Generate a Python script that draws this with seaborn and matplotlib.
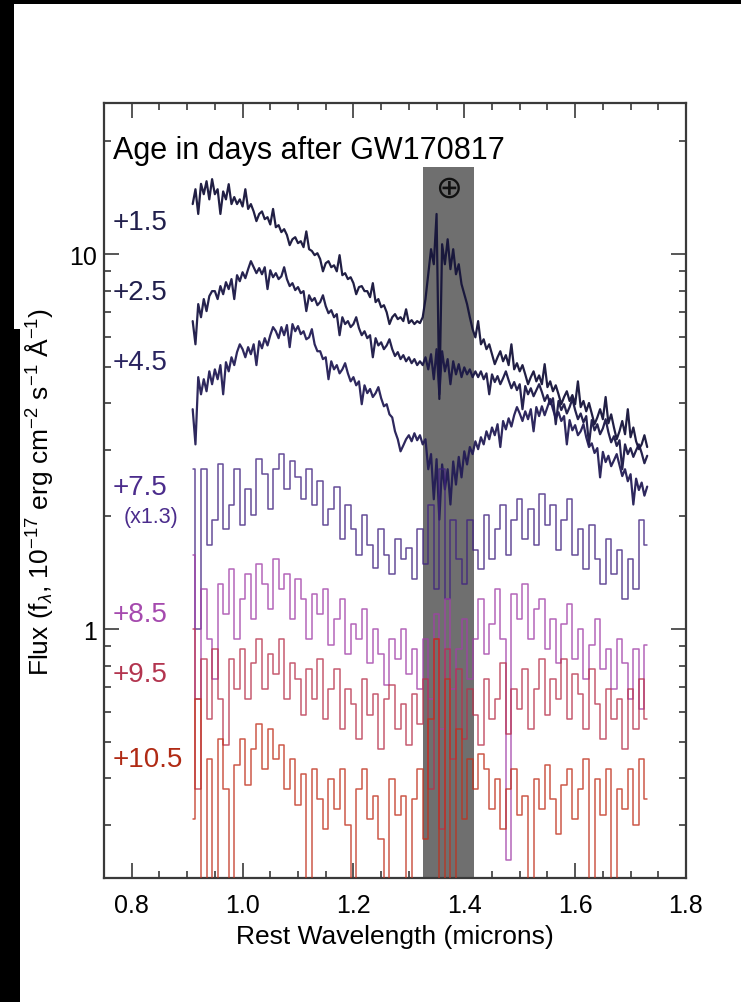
import numpy as np
import pandas as pd
import matplotlib
matplotlib.use("Agg")
import matplotlib.pyplot as plt
from matplotlib.patches import Rectangle
from matplotlib.ticker import (FixedLocator, MultipleLocator, FuncFormatter,
                               NullFormatter, LogLocator)
import seaborn as sns

# ---------------- data ----------------
wave_start, wave_end = 0.91, 1.73          # microns
n_fine, n_coarse = 165, 83                 # samples for early / late spectra

epoch_labels = ["+1.5", "+2.5", "+4.5", "+7.5", "+8.5", "+9.5", "+10.5"]
scale_note_7p5 = "(x1.3)"

flux_1p5 = [
    13.6, 14.9, 12.8, 15.4, 14.45, 15.65, 14.0, 15.85, 14.45, 14.9,
    12.8, 14.7, 14.0, 15.37, 13.6, 14.2, 13.6, 14.0, 13.4, 14.9,
    13.2, 13.6, 13.0, 12.25, 12.8, 13.0, 12.4, 12.55, 12.0, 13.2,
    11.8, 11.95, 11.45, 11.66, 11.25, 10.57, 10.96, 11.1, 10.7, 10.83,
    10.44, 11.5, 10.31, 10.2, 9.94, 10.06, 9.70, 9.0, 9.46, 9.58,
    9.23, 9.34, 9.0, 9.94, 8.79, 8.9, 8.58, 8.68, 8.37, 7.82,
    8.17, 8.22, 7.97, 7.97, 7.68, 8.37, 7.45, 7.59, 7.22, 7.31,
    7.0, 6.51, 6.79, 6.92, 6.71, 6.79, 6.63, 7.13, 6.55, 6.67,
    6.51, 6.63, 6.55, 6.79, 7.59, 8.84, 10.31, 9.40, 12.8, 4.11,
    10.63, 9.40, 10.96, 9.12, 10.31, 8.84, 9.40, 8.32, 7.82, 7.36,
    6.79, 6.31, 6.0, 6.63, 5.75, 5.93, 5.58, 5.75, 5.41, 5.09,
    5.31, 5.51, 5.18, 5.38, 5.06, 5.75, 4.93, 5.12, 4.87, 5.06,
    4.78, 4.50, 4.70, 4.87, 4.58, 4.75, 4.50, 5.09, 4.42, 4.58,
    4.31, 4.47, 4.23, 3.98, 4.16, 4.31, 4.06, 4.21, 3.98, 4.58,
    3.91, 4.06, 3.81, 4.01, 3.76, 3.52, 3.67, 3.86, 3.63, 4.16,
    3.54, 3.74, 3.45, 3.21, 3.37, 3.59, 3.31, 3.86, 3.25, 3.45,
    3.17, 3.02, 3.11, 3.29, 3.06]

flux_2p5 = [
    6.63, 5.75, 7.36, 6.79, 7.59, 7.05, 7.73, 7.97, 7.97, 7.59,
    8.22, 7.82, 8.42, 8.07, 8.58, 7.59, 8.79, 8.47, 8.95, 8.63,
    9.12, 9.58, 9.23, 8.9, 9.18, 8.84, 9.23, 8.07, 9.06, 8.68,
    8.9, 8.58, 8.73, 9.23, 8.58, 8.22, 8.37, 8.02, 8.17, 7.87,
    7.97, 7.05, 7.77, 7.50, 7.64, 7.31, 7.45, 7.77, 7.27, 6.96,
    7.09, 6.79, 6.92, 6.08, 6.79, 6.51, 6.63, 6.39, 6.51, 6.79,
    6.35, 6.08, 6.23, 5.97, 6.08, 5.31, 5.97, 5.71, 5.82, 5.58,
    5.71, 5.93, 5.58, 5.35, 5.48, 5.25, 5.38, 5.18, 5.31, 5.12,
    5.25, 5.06, 5.18, 5.06, 5.31, 4.93, 5.41, 4.64, 5.58, 4.23,
    5.51, 4.87, 5.25, 4.50, 5.18, 4.78, 5.09, 4.70, 4.99, 4.78,
    4.93, 4.70, 4.87, 4.70, 4.87, 4.64, 4.81, 4.23, 4.78, 4.56,
    4.73, 4.50, 4.67, 4.87, 4.61, 4.39, 4.56, 4.34, 4.50, 3.86,
    4.45, 4.23, 4.39, 4.18, 4.34, 4.50, 4.29, 4.06, 4.21, 3.98,
    4.13, 3.52, 4.06, 3.84, 3.98, 3.76, 3.91, 4.11, 3.84, 3.63,
    3.76, 3.56, 3.70, 3.11, 3.61, 3.39, 3.52, 3.31, 3.43, 3.63,
    3.35, 3.15, 3.27, 3.08, 3.19, 2.67, 3.11, 2.93, 3.04, 2.88,
    3.0, 3.11, 2.95, 2.77, 2.90]

flux_4p5 = [
    3.86, 3.11, 4.70, 4.23, 4.64, 4.31, 4.87, 4.50, 4.93, 4.64,
    5.06, 4.23, 5.15, 4.87, 5.31, 5.06, 5.48, 5.75, 5.58, 5.31,
    5.65, 5.41, 5.75, 5.06, 5.86, 5.61, 5.97, 5.71, 6.08, 6.39,
    6.23, 5.97, 6.39, 6.08, 6.47, 5.65, 6.51, 6.23, 6.43, 6.12,
    6.23, 5.93, 6.0, 6.31, 5.75, 5.51, 5.51, 5.25, 5.31, 4.64,
    5.18, 4.93, 5.06, 4.81, 4.93, 5.12, 4.81, 4.58, 4.70, 4.47,
    4.58, 3.98, 4.47, 4.26, 4.37, 4.16, 4.26, 4.42, 4.13, 3.93,
    3.98, 3.74, 3.67, 3.37, 3.21, 2.98, 3.09, 3.21, 3.29, 3.17,
    3.33, 3.19, 3.29, 3.11, 3.21, 2.67, 2.93, 2.22, 2.84, 1.96,
    2.75, 2.36, 2.67, 2.15, 2.80, 2.43, 2.88, 2.54, 2.98, 2.75,
    3.06, 2.93, 3.17, 3.02, 3.25, 3.11, 3.37, 3.21, 3.45, 3.29,
    3.52, 3.06, 3.59, 3.41, 3.65, 3.47, 3.72, 3.91, 3.76, 3.59,
    3.81, 3.63, 3.86, 3.37, 3.91, 3.70, 3.93, 3.72, 3.91, 4.11,
    3.86, 3.65, 3.79, 3.59, 3.70, 3.11, 3.61, 3.39, 3.50, 3.29,
    3.37, 3.52, 3.25, 3.06, 3.13, 2.95, 3.04, 2.54, 2.97, 2.79,
    2.90, 2.72, 2.82, 2.93, 2.74, 2.56, 2.67, 2.48, 2.59, 2.15,
    2.52, 2.35, 2.46, 2.27, 2.40]

# +7.5 d spectrum as displayed (already multiplied by 1.3)
flux_7p5 = [
    2.67, 1.0, 2.67, 1.68, 1.96, 2.75, 1.85, 2.15, 2.67, 1.90,
    2.36, 2.02, 2.84, 2.59, 2.09, 2.67, 2.93, 2.36, 2.80, 2.54,
    2.22, 2.67, 2.15, 2.48, 1.90, 2.09, 2.39, 1.74, 2.15, 1.85,
    1.58, 2.02, 1.68, 1.46, 1.85, 1.58, 1.40, 1.74, 1.54, 1.65,
    1.36, 1.85, 1.49, 2.15, 1.28, 2.67, 1.20, 1.96, 1.54, 1.32,
    1.96, 1.63, 1.445, 2.02, 1.54, 1.85, 2.15, 1.58, 1.96, 2.22,
    1.74, 2.09, 1.68, 2.29, 1.90, 2.15, 1.63, 1.96, 2.22, 1.58,
    1.85, 1.445, 1.90, 1.54, 1.32, 1.74, 1.40, 1.63, 1.20, 1.54,
    1.28, 1.96, 1.68]

flux_8p5 = [
    1.58, 0.651, 1.28, 0.94, 0.736, 1.32, 1.10, 1.445, 0.94, 1.20,
    1.40, 1.063, 1.49, 1.32, 1.13, 1.54, 1.28, 1.40, 1.063, 1.36,
    1.20, 0.94, 1.24, 1.10, 1.28, 0.91, 1.063, 1.20, 0.86, 1.03,
    0.94, 1.13, 0.81, 1.0, 0.86, 0.71, 0.94, 0.832, 1.0, 0.76,
    0.885, 0.692, 0.94, 0.651, 1.10, 0.541, 1.20, 0.692, 0.885, 1.063,
    0.736, 0.94, 1.20, 0.86, 1.03, 1.28, 0.94, 0.243, 1.24, 1.063,
    1.32, 0.94, 1.13, 1.20, 0.885, 1.063, 0.81, 1.03, 1.17, 0.832,
    1.0, 0.736, 0.91, 1.063, 0.782, 0.885, 0.692, 0.94, 0.81, 0.651,
    0.885, 0.612, 0.91]

flux_9p5 = [
    1.0, 0.374, 0.832, 0.576, 0.885, 0.651, 0.49, 0.832, 0.692, 0.885,
    0.651, 0.81, 0.94, 0.692, 0.86, 0.76, 0.94, 0.651, 0.81, 0.736,
    0.59, 0.782, 0.651, 0.832, 0.576, 0.692, 0.782, 0.541, 0.692, 0.63,
    0.509, 0.736, 0.59, 0.67, 0.479, 0.651, 0.71, 0.541, 0.63, 0.49,
    0.67, 0.56, 0.736, 0.374, 0.94, 0.293, 0.885, 0.450, 0.782, 0.509,
    0.692, 0.59, 0.49, 0.736, 0.576, 0.651, 0.81, 0.525, 0.692, 0.612,
    0.782, 0.541, 0.692, 0.832, 0.59, 0.736, 0.651, 0.832, 0.576, 0.76,
    0.67, 0.541, 0.782, 0.63, 0.509, 0.692, 0.576, 0.651, 0.479, 0.692,
    0.541, 0.736, 0.576]

flux_10p5 = [
    0.311, 0.651, 0.19, 0.450, 0.19, 0.509, 0.374, 0.19, 0.435, 0.509,
    0.385, 0.479, 0.56, 0.423, 0.541, 0.450, 0.49, 0.374, 0.450, 0.34,
    0.41, 0.19, 0.423, 0.352, 0.293, 0.398, 0.331, 0.423, 0.30, 0.19,
    0.374, 0.423, 0.311, 0.36, 0.275, 0.19, 0.398, 0.32, 0.36, 0.19,
    0.352, 0.423, 0.275, 0.576, 0.94, 0.19, 0.736, 0.19, 0.541, 0.311,
    0.450, 0.374, 0.465, 0.423, 0.331, 0.398, 0.293, 0.374, 0.423, 0.32,
    0.36, 0.19, 0.398, 0.331, 0.435, 0.352, 0.285, 0.385, 0.423, 0.311,
    0.374, 0.450, 0.19, 0.398, 0.32, 0.423, 0.19, 0.374, 0.331, 0.423,
    0.30, 0.450, 0.352]

telluric_band = (1.325, 1.418)             # microns
telluric_top = 17.1                         # flux units

line_colors = ["#15133a", "#1a1745", "#221c55", "#3f2180",
               "#a23fa8", "#b8324c", "#c0301c"]
label_colors = ["#211f4c", "#211f4c", "#2a2460", "#4b2c8c",
                "#a54aae", "#b3354f", "#b02a14"]

# ---------------- plotting ----------------
sns.set_theme(style="ticks")
plt.rcParams["font.family"] = ["Liberation Sans", "DejaVu Sans"]
plt.rcParams["mathtext.fontset"] = "custom"
plt.rcParams["mathtext.rm"] = "Liberation Sans"
plt.rcParams["mathtext.it"] = "Liberation Sans:italic"
plt.rcParams["mathtext.sf"] = "Liberation Sans"

W, H = 741, 1003
fig = plt.figure(figsize=(W / 100, H / 100), dpi=100, facecolor="black")
# white page inside the dark screenshot frame (drawn beneath the axes)
fig.patches.append(Rectangle((14 / W, 673 / H), 1 - 14 / W, (998 - 673) / H,
                             transform=fig.transFigure, facecolor="white",
                             edgecolor="none", zorder=-10))
fig.patches.append(Rectangle((20 / W, 0), 1 - 20 / W, 674 / H,
                             transform=fig.transFigure, facecolor="white",
                             edgecolor="none", zorder=-10))

ax = fig.add_axes([104 / W, 124 / H, 582 / W, 775 / H])
ax.set_facecolor("white")
ax.set_zorder(5)
ax.set_yscale("log")

wave_fine = np.linspace(wave_start, wave_end, n_fine)
wave_coarse = np.linspace(wave_start, wave_end, n_coarse)

series = [flux_1p5, flux_2p5, flux_4p5, flux_7p5, flux_8p5, flux_9p5, flux_10p5]
frames = []
for lab, fl in zip(epoch_labels, series):
    wv = wave_fine if len(fl) == n_fine else wave_coarse
    frames.append(pd.DataFrame({"wave": wv, "flux": fl, "epoch": lab}))
df = pd.concat(frames, ignore_index=True)

ylo, yhi = 0.217, 25.3
ax.axvspan(telluric_band[0], telluric_band[1], ymin=0,
           ymax=(np.log10(telluric_top) - np.log10(ylo)) /
                (np.log10(yhi) - np.log10(ylo)),
           color="#6f6f6f", lw=0, zorder=1)

for i, lab in enumerate(epoch_labels):
    sub = df[df["epoch"] == lab]
    early = i < 3
    sns.lineplot(data=sub, x="wave", y="flux", ax=ax, color=line_colors[i],
                 linewidth=1.6 if early else 1.1,
                 alpha=0.95 if early else 0.8,
                 drawstyle="default" if early else "steps-mid",
                 estimator=None, sort=False, legend=False, zorder=3 + i)

ax.text(sum(telluric_band) / 2, 15.0, "\u2295", ha="center", va="center",
        fontsize=23, family="DejaVu Sans", color="#111111", zorder=20)

ax.set_xlim(0.75, 1.8)
ax.set_ylim(ylo, yhi)

ax.xaxis.set_major_locator(FixedLocator([0.8, 1.0, 1.2, 1.4, 1.6, 1.8]))
ax.xaxis.set_minor_locator(MultipleLocator(0.05))
ax.xaxis.set_major_formatter(FuncFormatter(lambda v, p: f"{v:.1f}"))
ax.yaxis.set_major_locator(FixedLocator([1, 10]))
ax.yaxis.set_major_formatter(FuncFormatter(lambda v, p: f"{v:g}"))
ax.yaxis.set_minor_locator(LogLocator(base=10, subs=range(2, 10)))
ax.yaxis.set_minor_formatter(NullFormatter())

ax.tick_params(which="both", direction="in", top=True, right=True,
               color="#3a3a3a", labelcolor="black")
ax.tick_params(which="major", length=10.5, width=1.2, labelsize=18)
ax.tick_params(which="minor", length=5, width=1.2)
ax.tick_params(axis="x", pad=11)
ax.tick_params(axis="y", pad=5)
for s in ax.spines.values():
    s.set_linewidth(1.6)
    s.set_color("#3a3a3a")

ax.set_xlabel("Rest Wavelength (microns)", fontsize=19, color="black",
              labelpad=5)
ax.set_ylabel(r"Flux (f$_\lambda$, 10$^{-17}$ erg cm$^{-2}$ s$^{-1}$ Å$^{-1}$)",
              fontsize=19, color="black", labelpad=10)

ax.text(0.015, 0.929, "Age in days after GW170817", transform=ax.transAxes,
        fontsize=22, ha="left", va="baseline", color="black", zorder=30)

label_y = [0.8374, 0.747, 0.657, 0.4955, 0.3316, 0.254, 0.1445]
for lab, yy, c in zip(epoch_labels, label_y, label_colors):
    ax.text(0.014, yy, lab, transform=ax.transAxes, fontsize=20,
            ha="left", va="baseline", color=c, zorder=30)
ax.text(0.034, 0.459, scale_note_7p5, transform=ax.transAxes, fontsize=15.5,
        ha="left", va="baseline", color=label_colors[3], zorder=30)

fig.savefig("out.png", dpi=100, facecolor=fig.get_facecolor())
